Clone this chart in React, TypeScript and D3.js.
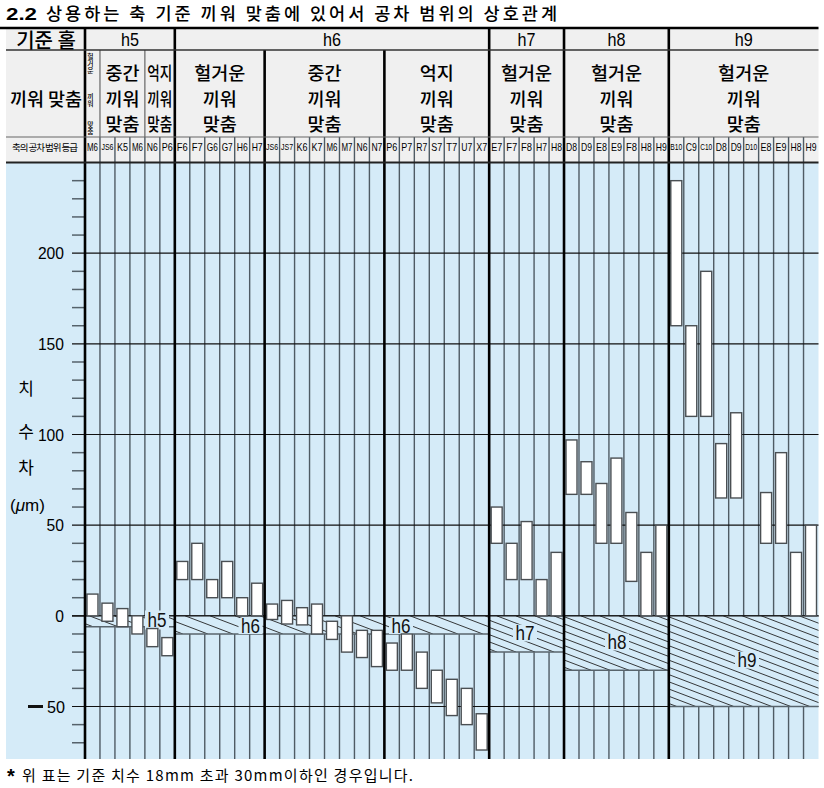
import React from "react";
import * as d3 from "d3";

const titleNumber = "2.2";
const titleText = "상용하는 축 기준 끼워 맞춤에 있어서 공차 범위의 상호관계";
const footnoteMark = "*";
const footnoteText = "위 표는 기준 치수 18mm 초과 30mm이하인 경우입니다.";
const rowHeadBase = "기준 홀";
const rowHeadFit = "끼워 맞춤";
const rowHeadGrade = "축의 공차 범위 등급";
const axisTitleChars = ["치", "수", "차"];
const axisUnitPrefix = "(";
const axisUnitMu = "μ";
const axisUnitSuffix = "m)";

const shaftGroups = ["h5", "h6", "h7", "h8", "h9"];
const shaftGroupSizes = [6, 21, 5, 7, 10];
const shaftLowerDev = [-6, -10, -20, -30, -50];

const fitKinds = ["헐거운", "중간", "억지", "헐거운", "중간", "억지", "헐거운", "헐거운", "헐거운"];
const fitKindSizes = [1, 3, 2, 6, 8, 7, 5, 7, 10];
const fitLine2 = "끼워";
const fitLine3 = "맞춤";

const holeGrades = [
  "M6", "JS6", "K5", "M6", "N6", "P6",
  "F6", "F7", "G6", "G7", "H6", "H7", "JS6", "JS7", "K6", "K7", "M6", "M7", "N6", "N7", "P6", "P7", "R7", "S7", "T7", "U7", "X7",
  "E7", "F7", "F8", "H7", "H8",
  "D8", "D9", "E8", "E9", "F8", "H8", "H9",
  "B10", "C9", "C10", "D8", "D9", "D10", "E8", "E9", "H8", "H9",
];
const holeUpper: (number | null)[] = [
  12, 7, 4, 0, -7, -12,
  30, 40, 20, 30, 10, 18, 6.5, 8.5, 4.5, 6.5, -3, 0, -8, -8, -15, -10, -20, -30, -35, -40, -54,
  60, 40, 52, 20, 35,
  97, 85, 73, 87, 57, 35, 50,
  240, 160, 190, 95, 112, null, 68, 90, 35, 50,
];
const holeLower: (number | null)[] = [
  0, -3, -6, -10, -17, -22,
  20, 20, 10, 10, 0, 0, -2, -4.5, -5, -10, -13, -20, -23, -28, -30, -30, -40, -48, -55, -60, -74,
  40, 20, 20, 0, 0,
  67, 67, 40, 40, 19, 0, 0,
  160, 110, 110, 65, 65, null, 40, 40, 0, 0,
];
const yTickValues = [200, 150, 100, 50, 0, -50];

const KR = "'Noto Sans CJK KR', 'Noto Sans', sans-serif";
const LAT = "'Liberation Sans', Arial, sans-serif";
const BLUE = "#d5ebf8";
const HEAD = "#f0f0f0";

export default function App() {
  const W = 824, H = 788;
  const left = 85, right = 818.5, bgLeft = 6;
  const headTop = 28, row1Bottom = 50, row2Bottom = 137, plotTop = 162.5, plotBottom = 759;
  const n = holeGrades.length;
  const x = d3.scaleBand<number>().domain(d3.range(n)).range([left, right]);
  const bw = x.bandwidth();
  const colX = (i: number) => (i < n ? (x(i) as number) : right);
  const y = d3.scaleLinear().domain([-50, 200]).range([706.5, 253.2]);

  const groupEdges = [0];
  shaftGroupSizes.forEach((s) => groupEdges.push(groupEdges[groupEdges.length - 1] + s));
  const fitEdges = [0];
  fitKindSizes.forEach((s) => fitEdges.push(fitEdges[fitEdges.length - 1] + s));

  const thickFull = groupEdges.slice(0, -1);
  const thickFit = fitEdges.filter((e) => !groupEdges.includes(e) && e >= groupEdges[1] && e < n);
  const thinFit = fitEdges.filter((e) => !groupEdges.includes(e) && e < groupEdges[1] && e > 0);
  const thinCols = d3.range(1, n).filter((i) => !groupEdges.includes(i) && !thickFit.includes(i));

  const minor = d3.range(-70, 241, 10).filter((v) => v % 50 !== 0);

  const slope = 0.38;
  const bands = shaftGroups.map((g, gi) => {
    const spacing = gi < 2 ? 25 : 19;
    const xs = colX(groupEdges[gi]);
    const xe = colX(groupEdges[gi + 1]);
    const yt = y(0);
    const yb = y(shaftLowerDev[gi]);
    const span = (yb - yt) / slope;
    const lines: number[] = [];
    for (let c = xs - span - spacing + 8; c < xe; c += spacing) lines.push(c);
    return { g, gi, xs, xe, yt, yb, span, lines };
  });

  const bandLabels = [
    { t: shaftGroups[0], x: 157, y: 620, w: 24, h: 19 },
    { t: shaftGroups[1], x: 250.5, y: 626, w: 24, h: 16 },
    { t: shaftGroups[1], x: 401, y: 626, w: 24, h: 16 },
    { t: shaftGroups[2], x: 525, y: 633, w: 24, h: 17 },
    { t: shaftGroups[3], x: 617, y: 642, w: 24, h: 17 },
    { t: shaftGroups[4], x: 747, y: 660, w: 24, h: 17 },
  ];

  const barW = 11;

  return (
    <svg width={W} height={H} style={{ position: "absolute", left: 0, top: 0, background: "#fff" }}>
      <rect x={0} y={0} width={W} height={H} fill="#fff" />
      <text x={6} y={20} fontFamily={LAT} fontWeight="bold" fontSize={17} textLength={31} lengthAdjust="spacingAndGlyphs">{titleNumber}</text>
      <text x={46} y={20} fontFamily={KR} fontSize={17.5} fontWeight={500} textLength={511}>{titleText}</text>

      <rect x={bgLeft} y={headTop} width={right - bgLeft} height={plotTop - headTop} fill={HEAD} />
      <rect x={bgLeft} y={plotTop} width={right - bgLeft} height={plotBottom - plotTop} fill={BLUE} />

      {thinCols.map((i) => (
        <line key={"tc" + i} x1={colX(i)} x2={colX(i)} y1={row2Bottom} y2={plotBottom} stroke="#4f5b64" strokeWidth={1.4} />
      ))}
      {thinFit.map((e) => (
        <line key={"tf" + e} x1={colX(e)} x2={colX(e)} y1={row1Bottom} y2={row2Bottom} stroke="#666" strokeWidth={1.2} />
      ))}

      {yTickValues.map((v) => (
        <line key={"g" + v} x1={72} x2={right} y1={y(v)} y2={y(v)} stroke="#111" strokeWidth={1.2} />
      ))}
      {minor.map((v) => (
        <line key={"m" + v} x1={72} x2={84} y1={y(v)} y2={y(v)} stroke="#55626b" strokeWidth={1.5} />
      ))}

      <defs>
        {bands.map((b) => (
          <clipPath key={"cp" + b.gi} id={"band" + b.gi}>
            <rect x={b.xs} y={b.yt} width={b.xe - b.xs} height={b.yb - b.yt} />
          </clipPath>
        ))}
      </defs>
      {bands.map((b) => (
        <g key={"b" + b.gi}>
          <rect x={b.xs} y={b.yt} width={b.xe - b.xs} height={b.yb - b.yt} fill={BLUE} />
          <g clipPath={`url(#band${b.gi})`}>
            {b.lines.map((c, k) => (
              <line key={k} x1={c} y1={b.yt} x2={c + b.span} y2={b.yb} stroke="#222" strokeWidth={0.9} />
            ))}
          </g>
          <line x1={b.xs} x2={b.xe} y1={b.yb} y2={b.yb} stroke="#58646c" strokeWidth={1.5} />
        </g>
      ))}
      <line x1={72} x2={right} y1={y(0)} y2={y(0)} stroke="#111" strokeWidth={1.4} />
      {bandLabels.map((l, i) => (
        <g key={"bl" + i}>
          <rect x={l.x - l.w / 2} y={l.y - l.h / 2} width={l.w} height={l.h} fill={BLUE} />
          <text x={l.x} y={l.y} dy="0.36em" textAnchor="middle" fontFamily={LAT} fontSize={20} textLength={19} lengthAdjust="spacingAndGlyphs" fill="#111">{l.t}</text>
        </g>
      ))}

      {holeGrades.map((gname, i) => {
        const u = holeUpper[i], lo = holeLower[i];
        if (u === null || lo === null) return null;
        return (
          <rect key={"bar" + i} x={colX(i) + (bw - barW) / 2} y={y(u)} width={barW} height={y(lo) - y(u)}
            fill="#fff" stroke="#4a4f53" strokeWidth={1.4} />
        );
      })}

      {thickFull.map((e) => (
        <line key={"tk" + e} x1={colX(e)} x2={colX(e)} y1={headTop} y2={plotBottom} stroke="#000" strokeWidth={2.6} />
      ))}
      {thickFit.map((e) => (
        <line key={"tkf" + e} x1={colX(e)} x2={colX(e)} y1={row1Bottom} y2={plotBottom} stroke="#000" strokeWidth={2.6} />
      ))}

      <line x1={0} x2={right} y1={headTop} y2={headTop} stroke="#000" strokeWidth={2.6} />
      <line x1={bgLeft} x2={right} y1={row1Bottom} y2={row1Bottom} stroke="#333" strokeWidth={1.5} />
      <line x1={bgLeft} x2={right} y1={row2Bottom} y2={row2Bottom} stroke="#666" strokeWidth={1.2} />
      <line x1={bgLeft} x2={right} y1={plotTop} y2={plotTop} stroke="#222" strokeWidth={2} />

      <text x={46} y={39} dominantBaseline="central" textAnchor="middle" fontFamily={KR} fontSize={20} fontWeight={500}>{rowHeadBase}</text>
      <text x={46} y={98} dominantBaseline="central" textAnchor="middle" fontFamily={KR} fontSize={18.5} fontWeight={500}>{rowHeadFit}</text>
      <text x={45} y={147} dominantBaseline="central" textAnchor="middle" fontFamily={KR} fontSize={9.5} textLength={66}>{rowHeadGrade}</text>

      {shaftGroups.map((g, gi) => {
        const cx = (colX(groupEdges[gi]) + colX(groupEdges[gi + 1])) / 2;
        return (
          <text key={"hg" + gi} x={cx} y={39} dy="0.36em" textAnchor="middle" fontFamily={LAT} fontSize={19} textLength={18} lengthAdjust="spacingAndGlyphs">{g}</text>
        );
      })}

      {fitKinds.map((k, fi) => {
        const x0 = colX(fitEdges[fi]);
        const x1 = colX(fitEdges[fi + 1]);
        const cx = (x0 + x1) / 2;
        const wdt = x1 - x0;
        if (wdt < 20) {
          const chars = [...k.split(""), ...fitLine2.split(""), ...fitLine3.split("")];
          const ys = [55.5, 62.5, 69.5, 95.5, 102.5, 123.5, 130.5];
          return (
            <text key={"fk" + fi} fontFamily={KR} fontSize={6.8} fontWeight={500} textAnchor="middle" dominantBaseline="central">
              {chars.map((c, j) => <tspan key={j} x={cx - 2} y={ys[j]}>{c}</tspan>)}
            </text>
          );
        }
        const squeeze = wdt < 35 ? 25 : undefined;
        return (
          <text key={"fk" + fi} fontFamily={KR} fontSize={18.5} fontWeight={500} textAnchor="middle" dominantBaseline="central">
            {[k, fitLine2, fitLine3].map((t, j) => (
              <tspan key={j} x={cx} y={[72, 98, 123][j]}
                textLength={squeeze} lengthAdjust={squeeze ? "spacingAndGlyphs" : undefined}>{t}</tspan>
            ))}
          </text>
        );
      })}

      {holeGrades.map((gname, i) => (
        <text key={"gl" + i} x={colX(i) + bw / 2} y={146.5} dominantBaseline="central" textAnchor="middle"
          fontFamily={LAT} fontSize={gname.length > 2 ? 8.5 : 11} textLength={gname.length > 2 ? 12 : 11} lengthAdjust="spacingAndGlyphs">{gname}</text>
      ))}

      {yTickValues.map((v) => {
        if (v < 0) {
          return (
            <g key={"yl" + v}>
              <rect x={28} y={y(v) - 1.5} width={15} height={3} fill="#111" />
              <text x={65} y={y(v)} dy="0.36em" textAnchor="end" fontFamily={LAT} fontSize={17} textLength={18} lengthAdjust="spacingAndGlyphs">{String(Math.abs(v))}</text>
            </g>
          );
        }
        const s = String(v);
        return (
          <text key={"yl" + v} x={64} y={y(v)} dy="0.36em" textAnchor="end" fontFamily={LAT} fontSize={17}
            textLength={s.length * 8.7} lengthAdjust="spacingAndGlyphs">{s}</text>
        );
      })}

      {axisTitleChars.map((c, i) => (
        <text key={"at" + i} x={26} y={[387, 430, 466][i]} dominantBaseline="central" textAnchor="middle" fontFamily={KR} fontSize={17}>{c}</text>
      ))}
      <text x={27.5} y={505} dominantBaseline="central" textAnchor="middle" fontFamily={LAT} fontSize={17}>
        {axisUnitPrefix}<tspan fontStyle="italic">{axisUnitMu}</tspan>{axisUnitSuffix}
      </text>

      <text x={7} y={783} fontFamily={LAT} fontWeight="bold" fontSize={20}>{footnoteMark}</text>
      <text x={22} y={781} fontFamily={KR} fontSize={15} textLength={391}>{footnoteText}</text>
    </svg>
  );
}
